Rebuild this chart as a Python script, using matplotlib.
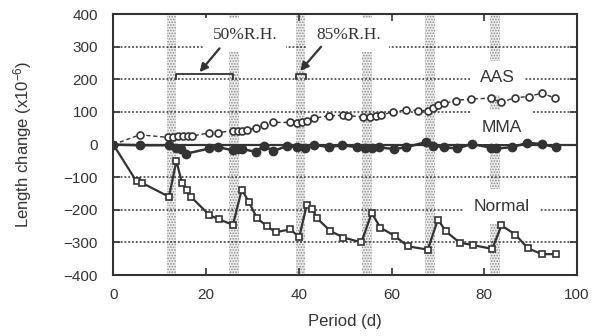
import matplotlib
matplotlib.use("Agg")
import matplotlib.pyplot as plt

plt.rcParams['font.family'] = ['Liberation Sans', 'DejaVu Sans']
plt.rcParams['mathtext.default'] = 'regular'
plt.rcParams['hatch.linewidth'] = 0.8

ink = '#333333'

# Normal (open squares)
normal_x = [0, 5, 6.1, 12, 13.6, 14.8, 15.8, 16.8, 20.7, 22.7, 25.8, 27.7, 29.2, 31, 33.1,
            35, 38.1, 40.1, 41.7, 42.9, 43.9, 46.8, 49.6, 53.5, 55.7, 57.6, 60.7, 63.5,
            67.8, 70, 71.7, 74.7, 77.5, 81.7, 83.7, 86.7, 89.4, 92.4, 95.5]
normal_y = [0, -113, -117, -160, -50, -117, -140, -161, -216, -229, -246, -138, -175, -226, -250,
            -269, -260, -283, -186, -197, -226, -265, -285, -300, -210, -255, -280, -312,
            -322, -230, -266, -301, -308, -320, -248, -276, -318, -336, -336]

# AAS (open circles, dashed)
aas_x = [0, 5.7, 11.8, 12.8, 13.9, 15.1, 16.2, 16.9, 20.7, 22.5, 25.7, 26.8, 27.8, 28.9, 30.7,
         32.5, 34.5, 38.0, 39.6, 40.7, 41.8, 43.2, 46.4, 49.6, 50.7, 53.9, 55.3, 56.7, 57.8,
         60.3, 63.2, 65.7, 67.8, 68.9, 70.0, 71.4, 73.9, 77.1, 81.4, 83.5, 86.7, 89.6, 92.4, 95.3]
aas_y = [0, 30, 22, 23, 25, 25, 25, 26, 36, 36, 43, 43, 43, 45, 51,
         60, 68, 68, 65, 68, 73, 81, 88, 90, 89, 84, 86, 87, 91,
         100, 106, 104, 104, 112, 122, 126, 135, 140, 142, 129, 144, 147, 158, 142]

# MMA (filled circles)
mma_x = [0, 5.7, 12.0, 13.6, 14.6, 15.7, 20.7, 22.5, 25.7, 26.8, 27.8, 30.7, 32.5, 34.5, 37.5,
         39.6, 41.4, 43.2, 46.4, 49.4, 52.5, 54.3, 55.7, 57.2, 60.5, 63.2, 67.5, 68.9, 71.2,
         74.2, 77.3, 81.5, 82.6, 86, 89.2, 92.4, 95.4]
mma_y = [0, -2, -2, -10, -15, -28, -12, -7, -18, -14, -14, -22, -4, -20, -4,
         -8, -10, 0, -8, -2, -8, -10, -10, -8, -14, -8, 8, -4, -8,
         -12, 2, -10, -12, -8, 5, 2, -9]

# 85% R.H. periods (start day, length)
humid_start = [11.5, 25.0, 39.3, 53.7, 67.2, 81.3]
humid_len = 2.1

fig = plt.figure(figsize=(5.98, 3.36), dpi=100)
ax = fig.add_axes([0.1895, 0.1815, 0.7755, 0.7765])

for s in humid_start:
    ax.axvspan(s, s + humid_len, facecolor='#eeeeee', edgecolor='#8c8c8c',
               hatch='......', linewidth=0, zorder=1)

for g in [-300, -200, -100, 100, 200, 300]:
    ax.axhline(g, color=ink, lw=1.1, linestyle=(0, (1.2, 1.3)), zorder=2)
ax.axhline(0, color=ink, lw=1.6, zorder=2)

ax.plot(normal_x, normal_y, color=ink, lw=1.6, marker='s', ms=5, mfc='white',
        mec=ink, mew=1.2, zorder=5)
ax.plot(aas_x, aas_y, color=ink, lw=1.0, linestyle=(0, (3, 2)), marker='o', ms=5,
        mfc='white', mec=ink, mew=1.2, zorder=5)
ax.plot(mma_x, mma_y, color=ink, lw=1.8, marker='o', ms=6, mfc=ink, mec=ink, zorder=6)

box = dict(boxstyle='square,pad=0.55', fc='white', ec='none')
ax.text(82.8, 205, 'AAS', fontsize=12.5, color=ink, ha='center', va='center', bbox=box, zorder=3)
ax.text(83.7, 53, 'MMA', fontsize=12.5, color=ink, ha='center', va='center', bbox=box, zorder=3)
ax.text(83.7, -190, 'Normal', fontsize=12.5, color=ink, ha='center', va='center', bbox=box, zorder=3)

sbox = dict(boxstyle='square,pad=0.5', fc='white', ec='none')
ax.text(28.4, 336, '50%R.H.', fontsize=12.5, family=['Liberation Serif'], color=ink,
        ha='center', va='center', bbox=sbox, zorder=3)
ax.text(50.7, 336, '85%R.H.', fontsize=12.5, family=['Liberation Serif'], color=ink,
        ha='center', va='center', bbox=sbox, zorder=3)

ax.plot([13.6, 13.6, 25.8, 25.8], [200, 215, 215, 200], color=ink, lw=1.3, zorder=4)
ax.plot([39.3, 39.3, 41.5, 41.5], [200, 215, 215, 200], color=ink, lw=1.3, zorder=4)
arrow = dict(arrowstyle='-|>', color=ink, lw=1.6, mutation_scale=12, shrinkA=0, shrinkB=0)
ax.annotate('', xy=(18.6, 222), xytext=(22.9, 295), arrowprops=arrow, zorder=4)
ax.annotate('', xy=(40.3, 226), xytext=(44.8, 300), arrowprops=arrow, zorder=4)

ax.set_xlim(0, 100)
ax.set_ylim(-400, 400)
ax.set_xticks([0, 20, 40, 60, 80, 100])
ax.set_yticks(range(-400, 401, 100))
ax.tick_params(axis='both', direction='in', length=5, width=1.2, color=ink,
               labelcolor=ink, labelsize=11)
ax.tick_params(axis='y', pad=11, right=True)
ax.tick_params(axis='x', pad=9, top=True)
for sp in ax.spines.values():
    sp.set_color(ink)
    sp.set_linewidth(1.5)
    sp.set_zorder(7)

ax.set_xlabel('Period (d)', fontsize=12, color=ink)
ax.xaxis.set_label_coords(0.5, -0.149)
ax.set_ylabel('Length change (x10$^{-6}$)', fontsize=12, color=ink)
ax.yaxis.set_label_coords(-0.171, 0.5)

fig.savefig('out.png', dpi=100)
